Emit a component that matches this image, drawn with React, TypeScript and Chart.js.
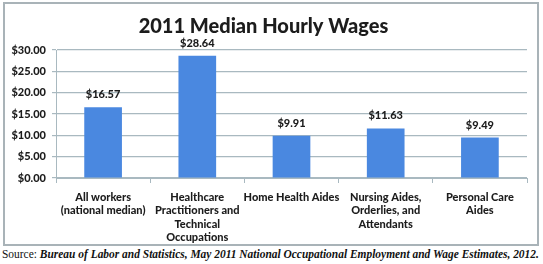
import React, { useEffect, useRef } from "react";
import { Chart, registerables } from "chart.js";

Chart.register(...registerables);

const categories: string[][] = [
  ["All workers", "(national median)"],
  ["Healthcare", "Practitioners and", "Technical", "Occupations"],
  ["Home Health Aides"],
  ["Nursing Aides,", "Orderlies, and", "Attendants"],
  ["Personal Care", "Aides"],
];
const wages: number[] = [16.57, 28.64, 9.91, 11.63, 9.49];
const titleText = "2011 Median Hourly Wages";

const FONT = "Lato, 'Open Sans', sans-serif";
const TEXT = "#1c1c1c";

const frameAndLabels = {
  id: "frameAndLabels",
  beforeDraw(chart: any) {
    const ctx = chart.ctx;
    ctx.save();
    ctx.fillStyle = "#ffffff";
    ctx.fillRect(0, 0, chart.width, chart.height);
    ctx.strokeStyle = "#a9b3b8";
    ctx.lineWidth = 2;
    ctx.strokeRect(4, 3, chart.width - 9, chart.height - 5);
    ctx.restore();
  },
  afterDatasetsDraw(chart: any) {
    const ctx = chart.ctx;
    const meta = chart.getDatasetMeta(0);
    ctx.save();
    ctx.font = `900 11px ${FONT}`;
    ctx.fillStyle = TEXT;
    ctx.textAlign = "center";
    ctx.textBaseline = "bottom";
    meta.data.forEach((bar: any, i: number) => {
      ctx.fillText("$" + wages[i].toFixed(2), bar.x, bar.y - 7);
    });
    ctx.restore();
  },
};

export default function App() {
  const ref = useRef<HTMLCanvasElement>(null);
  useEffect(() => {
    document.body.style.margin = "0";
    const chart = new Chart(ref.current!, {
      type: "bar",
      data: {
        labels: categories,
        datasets: [
          {
            data: wages,
            backgroundColor: "#4a88e0",
            borderWidth: 0,
            barPercentage: 0.5,
            categoryPercentage: 0.8,
          },
        ],
      },
      options: {
        animation: false,
        responsive: false,
        maintainAspectRatio: false,
        layout: { padding: { left: 0, right: 16, top: 0, bottom: 0 } },
        plugins: {
          legend: { display: false },
          tooltip: { enabled: false },
          title: {
            display: true,
            text: titleText,
            color: TEXT,
            font: { family: FONT, size: 20, weight: "900" },
            padding: { top: 15, bottom: 11 },
          },
        },
        scales: {
          x: {
            grid: {
              offset: true,
              drawOnChartArea: false,
              tickLength: 5,
              color: "#a9b9c0",
            },
            border: { color: "#a9b9c0" },
            ticks: {
              color: TEXT,
              font: { family: FONT, size: 11, weight: "900" },
              maxRotation: 0,
              autoSkip: false,
              padding: 8,
            },
            afterFit(scale: any) {
              scale.height = 69;
            },
          },
          y: {
            min: 0,
            max: 30,
            grid: { color: "#a9b9c0", tickLength: 4, lineWidth: 1.2 },
            border: { color: "#a9b9c0" },
            ticks: {
              stepSize: 5,
              color: TEXT,
              font: { family: FONT, size: 11, weight: "900" },
              padding: 6,
              callback: (v: any) => "$" + Number(v).toFixed(2),
            },
            afterFit(scale: any) {
              scale.width = 56;
            },
          },
        },
      },
      plugins: [frameAndLabels],
    });
    return () => chart.destroy();
  }, []);
  return (
    <div style={{ position: "relative", width: 543, height: 264, background: "#fff", overflow: "hidden" }}>
      <canvas ref={ref} width={543} height={247} style={{ display: "block" }} />
      <div
        style={{
          position: "absolute",
          left: 2,
          top: 247,
          whiteSpace: "nowrap",
          fontFamily: "'Liberation Serif', 'Times New Roman', serif",
          fontSize: "11.45px",
          color: "#111",
          lineHeight: "14px",
        }}
      >
        Source: <b><i>Bureau of Labor and Statistics, May 2011 National Occupational Employment and Wage Estimates, 2012.</i></b>
      </div>
    </div>
  );
}
